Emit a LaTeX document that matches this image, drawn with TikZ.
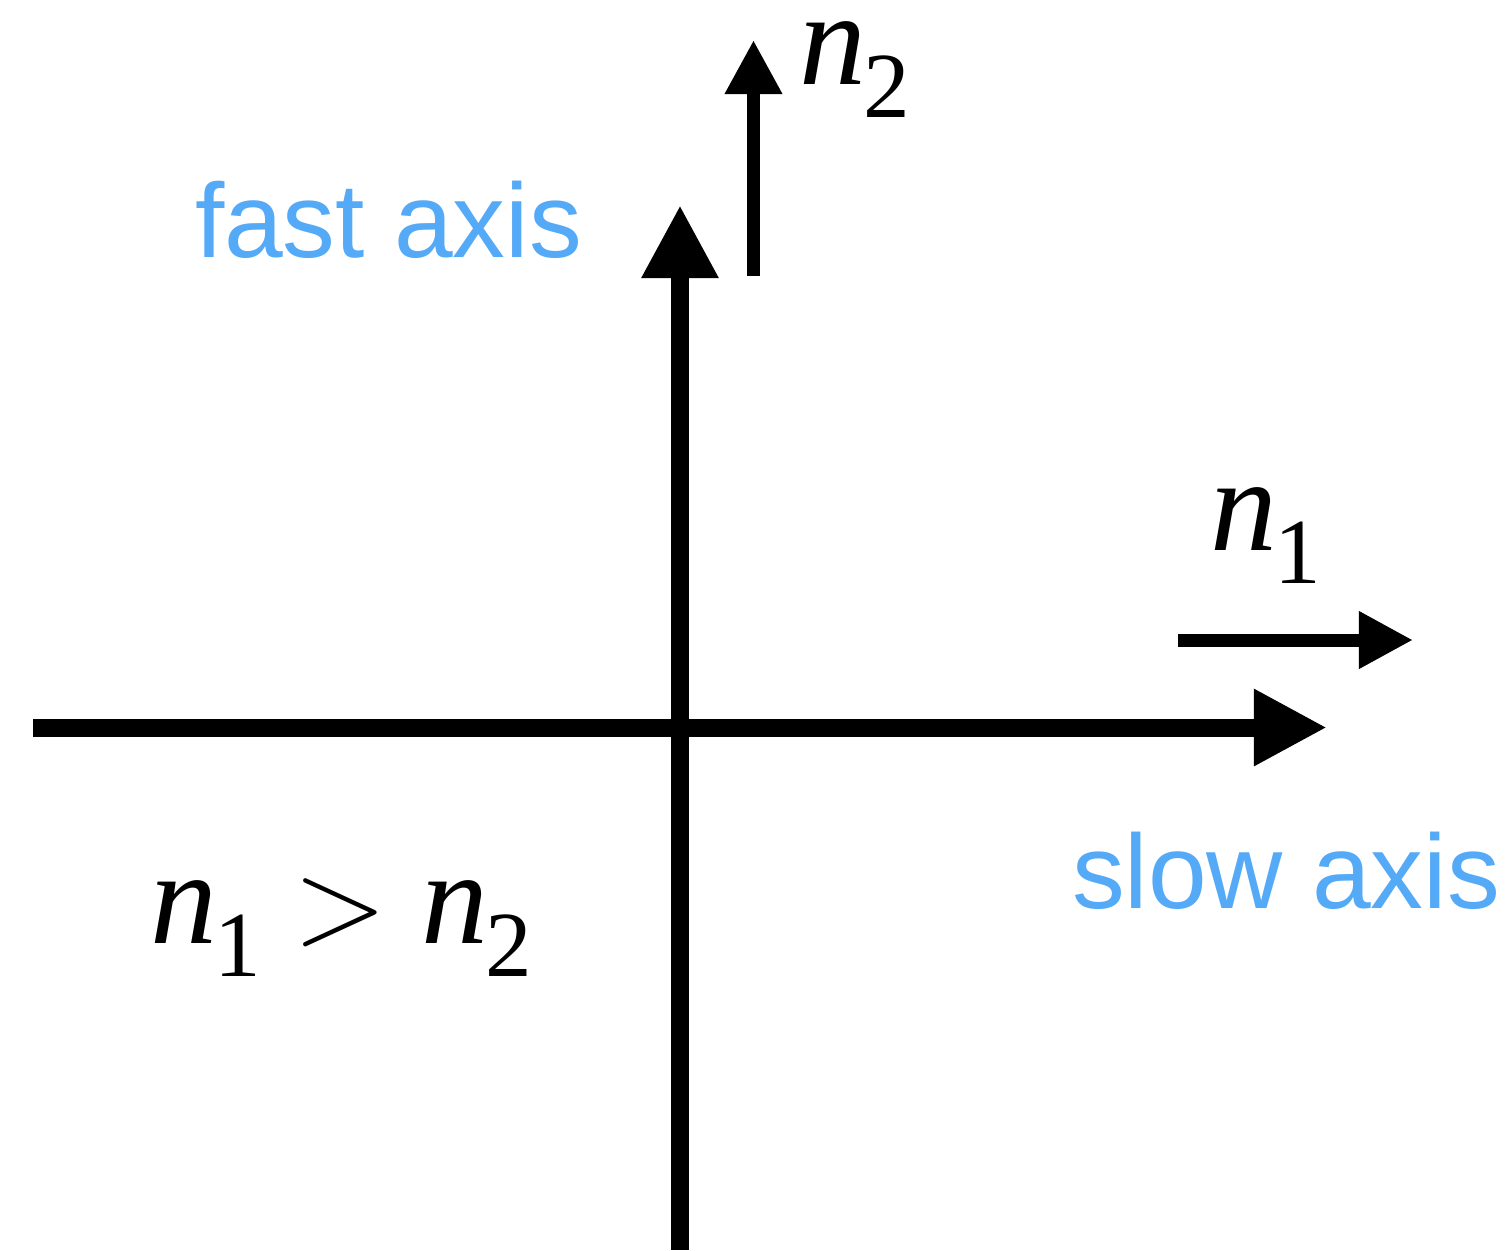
\RequirePackage{fix-cm}
\documentclass[tikz,border=0pt]{standalone}
\usepackage{fontspec}
\usetikzlibrary{arrows.meta}
\newfontfamily\axisfont{Liberation Sans}
\newfontfamily\symfont{Liberation Serif}
\definecolor{axisblue}{RGB}{85,170,248}
\newcommand{\bigsz}{\fontsize{38}{40}\selectfont}
\newcommand{\subsz}{\fontsize{26.5}{28}\selectfont}
\newcommand{\nsub}[1]{\textit{n}\kern-0.02cm\raisebox{-0.33cm}{\subsz #1}}
\begin{document}
\begin{tikzpicture}[x=0.01cm,y=-0.01cm,
  mainaxis/.style={line width=0.18cm,-{Triangle[length=0.73cm,width=0.72cm]}},
  smallarrow/.style={line width=0.13cm,-{Triangle[length=0.54cm,width=0.54cm]}},
  bluelabel/.style={inner sep=0pt,outer sep=0pt,anchor=base west,text=axisblue,font=\axisfont\fontsize{30}{32}\selectfont},
  mathlabel/.style={inner sep=0pt,outer sep=0pt,anchor=base west,font=\symfont\bigsz}]
\useasboundingbox (0,0) rectangle (1511,1250);
\fill[white] (0,0) rectangle (1511,1250);
% coordinates of axes
\coordinate (hl) at (33,727.5);
\coordinate (hr) at (1327,727.5);
\coordinate (vb) at (680,1250);
\coordinate (vt) at (680,205);
\coordinate (s2b) at (753.5,276);
\coordinate (s2t) at (753.5,40);
\coordinate (s1l) at (1178,640);
\coordinate (s1r) at (1413,640);
% axes
\draw[mainaxis] (hl) -- (hr);
\draw[mainaxis] (vb) -- (vt);
\draw[smallarrow] (s2b) -- (s2t);
\draw[smallarrow] (s1l) -- (s1r);
% labels
\node[bluelabel] (fast) at (195,257) {fast axis};
\node[bluelabel] (slow) at (1072,908) {slow axis};
\node[mathlabel] (ntwo) at (799,84) {\nsub{2}};
\node[mathlabel] (none) at (1210,550) {\nsub{1}};
\node[mathlabel] (ineq) at (150,943) {\nsub{1}\hspace{0.32cm}{\fontsize{35}{37}\selectfont$>$}\hspace{0.34cm}\nsub{2}};
\end{tikzpicture}
\end{document}
